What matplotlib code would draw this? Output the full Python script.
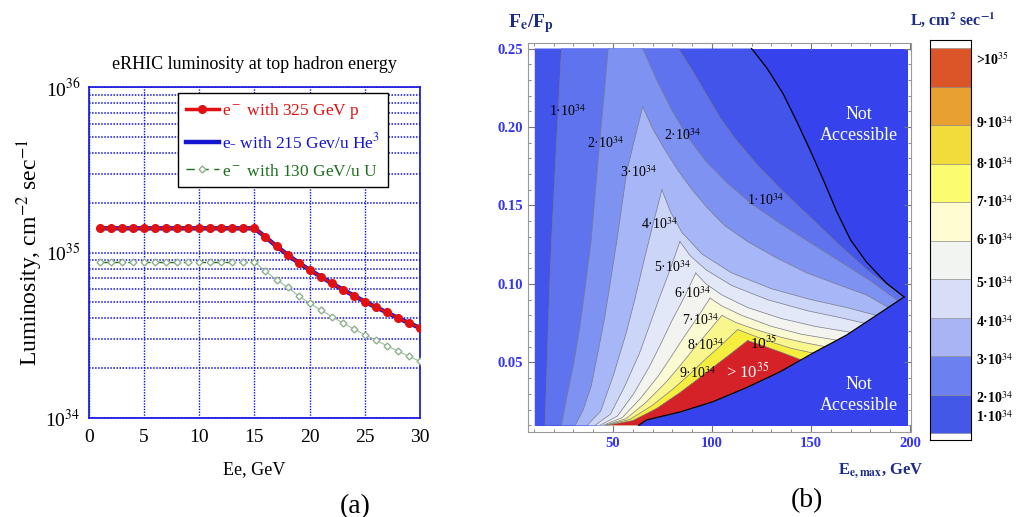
import numpy as np
import matplotlib.pyplot as plt
from matplotlib.patches import Polygon, Rectangle
from matplotlib.lines import Line2D

plt.rcParams['font.family'] = ['Liberation Serif', 'DejaVu Serif']
plt.rcParams['mathtext.fontset'] = 'stix'

# ---------------- panel (a): luminosity vs electron energy
ee = list(range(1, 31))
lum_p = [1.4e35] * 15 + [1.24e35, 1.09e35, 9.7e34, 8.66e34, 7.85e34, 7.16e34, 6.52e34,
                         5.97e34, 5.49e34, 5.05e34, 4.67e34, 4.35e34, 4.02e34, 3.75e34, 3.5e34]
lum_he = [1.4e35] * 15 + [1.24e35, 1.09e35, 9.7e34, 8.66e34, 7.85e34, 7.16e34, 6.52e34,
                          5.97e34, 5.49e34, 5.05e34, 4.67e34, 4.35e34, 4.02e34, 3.75e34, 3.5e34]
lum_u = [8.8e34] * 15 + [7.7e34, 6.85e34, 6.16e34, 5.48e34, 4.93e34, 4.5e34, 4.1e34,
                         3.75e34, 3.45e34, 3.19e34, 2.96e34, 2.73e34, 2.54e34, 2.36e34, 2.2e34]

# ---------------- panel (b): contour boundaries (Ee,max [GeV], Fe/Fp)
# left edges of each level region, from the cusp (or top) down to Fe/Fp = 0.01
left_edges = [
    [(24, 0.25), (22.8, 0.22), (21.6, 0.192), (20.3, 0.16), (19, 0.128), (18.1, 0.1),
     (17.3, 0.071), (16.5, 0.04), (15.7, 0.01)],
    [(47.6, 0.25), (45.5, 0.22), (43.4, 0.192), (41.2, 0.16), (39, 0.128), (36, 0.098),
     (33, 0.07), (30, 0.048), (27, 0.03), (24, 0.01)],
    [(65, 0.213), (60.5, 0.19), (57, 0.172), (54.5, 0.15), (52, 0.128), (49, 0.104),
     (46, 0.08), (42.5, 0.057), (39, 0.035), (35, 0.02), (31, 0.01)],
    [(74.7, 0.16), (70, 0.137), (65.4, 0.1135), (61, 0.09), (56.6, 0.0685), (50.5, 0.043),
     (43.8, 0.019), (37, 0.01)],
    [(83.8, 0.127), (78.5, 0.108), (73.3, 0.0907), (68.3, 0.073), (63.3, 0.0556),
     (56, 0.035), (48.7, 0.017), (41, 0.01)],
    [(91.8, 0.107), (85.8, 0.091), (79.9, 0.077), (74.2, 0.062), (68.6, 0.0478),
     (60.4, 0.03), (52.2, 0.0158), (43.5, 0.01)],
    [(99, 0.091), (92.3, 0.078), (85.7, 0.066), (79.3, 0.0535), (73, 0.0416),
     (63.8, 0.027), (54.7, 0.0149), (45, 0.01)],
    [(105, 0.08), (97.7, 0.069), (90.5, 0.0583), (83.6, 0.0475), (76.7, 0.0373),
     (66.6, 0.0245), (56.6, 0.0142), (46, 0.01)],
    [(113, 0.071), (104.8, 0.0612), (96.6, 0.052), (88.8, 0.0426), (81, 0.0338),
     (69.7, 0.0225), (58.5, 0.0137), (46.5, 0.01)],
    [(118, 0.064), (109.2, 0.0553), (100.5, 0.047), (92.2, 0.0388), (84, 0.031),
     (72, 0.0207), (60, 0.013), (47, 0.01)],
]
# right edges, from the cusp (or top) down to the accessibility limit
right_edges = [
    [(83, 0.25), (90, 0.236), (97, 0.221), (104, 0.206), (112, 0.192), (122, 0.177),
     (135, 0.16), (150, 0.142), (165, 0.124), (180, 0.107), (190, 0.098), (197, 0.0917)],
    [(65, 0.25), (72, 0.23), (80, 0.21), (88, 0.193), (97, 0.178), (108, 0.164), (120, 0.151),
     (135, 0.138), (150, 0.126), (165, 0.114), (180, 0.102), (194, 0.0892)],
    [(65, 0.213), (70, 0.199), (76, 0.186), (83, 0.172), (90, 0.16), (98, 0.148),
     (106.6, 0.137), (118, 0.127), (132, 0.117), (148, 0.107), (165, 0.099), (178, 0.093),
     (189, 0.0851)],
    [(74.7, 0.16), (79, 0.146), (84.7, 0.133), (95, 0.119), (110, 0.107), (130, 0.097),
     (150, 0.09), (168, 0.085), (183, 0.08)],
    [(83.8, 0.127), (89, 0.118), (97, 0.109), (110, 0.099), (128, 0.09), (148, 0.083),
     (165, 0.0785), (177, 0.075)],
    [(91.8, 0.107), (97, 0.1), (105, 0.093), (118, 0.085), (135, 0.078), (152, 0.073),
     (170, 0.0692)],
    [(99, 0.091), (105, 0.086), (115, 0.08), (130, 0.073), (145, 0.068), (163, 0.0642)],
    [(105, 0.08), (112, 0.0755), (122, 0.071), (135, 0.066), (146, 0.0628), (157, 0.0601)],
    [(113, 0.071), (120, 0.0675), (130, 0.063), (140, 0.059), (151, 0.056)],
    [(118, 0.064), (125, 0.061), (135, 0.0565), (145, 0.0517)],
]
upper_limit = [(120, 0.25), (128, 0.237), (136, 0.221), (143, 0.203), (150, 0.184),
               (157, 0.164), (163, 0.146), (170, 0.128), (178, 0.114), (188, 0.1006),
               (197, 0.0917)]
lower_limit = [(197, 0.0917), (168, 0.0675), (151, 0.056), (134.3, 0.044), (117.5, 0.034),
               (100.5, 0.025), (84, 0.0185), (67, 0.0134), (63, 0.01)]

band_colors = ['#4254e9', '#5f73ee', '#7e92f2', '#a6b6f6', '#cbd5f8', '#e3e8f8',
               '#f3f4ef', '#fbfad2', '#faf68e', '#f6ee3e', '#d42228']
blocked_color = '#3643ec'

contour_labels = [
    (27, 0.21, '1'), (46, 0.19, '2'), (63, 0.171, '3'), (73.7, 0.138, '4'), (80, 0.111, '5'),
    (90.3, 0.094, '6'), (94, 0.077, '7'), (96.5, 0.061, '8'), (92.5, 0.043, '9'),
    (85, 0.195, '2'), (127, 0.1535, '1'),
]

cbar_colors = ['#4458e8', '#6c80f0', '#a8b4f4', '#d8ddf8', '#f2f4f2',
               '#fefcd0', '#fcfc70', '#f2dc3c', '#e8a030', '#dc5528']
cbar_labels = ['1·10$^{34}$', '2·10$^{34}$', '3·10$^{34}$', '4·10$^{34}$', '5·10$^{34}$',
               '6·10$^{34}$', '7·10$^{34}$', '8·10$^{34}$', '9·10$^{34}$', '>10$^{35}$']
cbar_label_pos = [0.42, 0.9, 1.9, 2.88, 3.9, 5.0, 6.0, 6.99, 8.05, 9.69]

fig = plt.figure(figsize=(10.18, 5.17), dpi=100)

# ================= (a)
ax1 = fig.add_axes([0.0874, 0.1915, 0.3251, 0.6402])
grid_blue = '#1010dd'
ax1.plot(ee, lum_he, color='#1515d0', lw=3.2, zorder=3)
ax1.plot(ee, lum_p, color='#e01010', lw=1.6, marker='o', ms=5.5, zorder=4)
ax1.plot(ee[:15], lum_u[:15], color='#1f6e1f', lw=1, ls=(0, (6, 4)), marker='D', ms=3.5,
         mfc='white', mec='#90b090', zorder=3)
ax1.plot(ee[14:], lum_u[14:], color='#9cc09c', lw=0.8, marker='D', ms=3.5,
         mfc='white', mec='#90b090', zorder=3)

ax1.set_yscale('log')
ax1.set_xlim(0, 30)
ax1.set_ylim(1e34, 1e36)
ax1.set_xticks(range(0, 31, 5))
ax1.set_yticks([1e34, 1e35, 1e36])
ax1.set_yticklabels(['10$^{34}$', '10$^{35}$', '10$^{36}$'])
ax1.tick_params(which='both', length=0, labelsize=14, pad=8)
ax1.tick_params(axis='y', pad=6)
ax1.grid(axis='x', which='major', color=grid_blue, ls=(0, (1, 1)), lw=1)
ax1.grid(axis='y', which='both', color=grid_blue, ls=(0, (1, 1)), lw=1.1)
for s in ax1.spines.values():
    s.set_color(grid_blue)
    s.set_linestyle((0, (1, 1)))
    s.set_linewidth(1.2)
ax1.set_title('eRHIC luminosity at top hadron energy', fontsize=13, pad=13)
ax1.set_xlabel('Ee, GeV', fontsize=13, labelpad=11)
ax1.set_ylabel('Luminosity, cm$^{-2}$ sec$^{-1}$', fontsize=17, labelpad=0)

h = [Line2D([], [], color='#e01010', lw=2.5, marker='o', ms=5.5),
     Line2D([], [], color='#1515d0', lw=3.2),
     Line2D([], [], color='#1f6e1f', lw=1, ls=(0, (6, 4)), marker='D', ms=3.5,
            mfc='white', mec='#90b090')]
leg = ax1.legend(h, ['e$^-$ with 325 GeV p', 'e- with 215 Gev/u He$^3$', 'e$^-$ with 130 GeV/u U'],
                 loc='upper left', bbox_to_anchor=(0.269, 0.982), borderaxespad=0, fontsize=12.5,
                 fancybox=False, framealpha=1, edgecolor='black', handlelength=1.9,
                 handletextpad=0.2, borderpad=0.45, labelspacing=0.65)
leg.get_frame().set_linewidth(1.0)
for t, c in zip(leg.get_texts(), ['#e01010', '#1515d0', '#1f6e1f']):
    t.set_color(c)

fig.text(0.349, 0.021, '(a)', fontsize=20, ha='center', va='center')

# ================= (b)
ax2 = fig.add_axes([0.5187, 0.1644, 0.3762, 0.7524])
x0, x1, y0, y1 = 10.5, 199.0, 0.0095, 0.25
ax2.add_patch(Rectangle((x0, y0), x1 - x0, y1 - y0, color=blocked_color, lw=0, zorder=1))

accessible = [(x0, y0), (x0, y1)] + upper_limit + lower_limit[1:]
ax2.add_patch(Polygon(accessible, closed=True, color=band_colors[0], lw=0, zorder=2))

for k, (le, ri) in enumerate(zip(left_edges, right_edges)):
    end_x = ri[-1][0]
    tail = [p for p in lower_limit if p[0] < end_x - 0.5]
    pts = le[::-1] + ri + tail
    ax2.add_patch(Polygon(pts, closed=True, color=band_colors[k + 1], lw=0, zorder=3 + k))
    for edge in (le, ri):
        xs, ys = zip(*edge)
        ax2.plot(xs, ys, color='#7a7a8a', lw=0.5, zorder=20)

for edge in (upper_limit, lower_limit):
    xs, ys = zip(*edge)
    ax2.plot(xs, ys, color='black', lw=0.9, zorder=21)

for x, y, n in contour_labels:
    ax2.text(x, y, n + '·10$^{34}$', fontsize=10, ha='center', va='center', zorder=25)
ax2.text(126, 0.062, '10$^{35}$', fontsize=11, ha='center', va='center', zorder=25)
ax2.text(118, 0.044, '> 10$^{35}$', fontsize=12, color='white', ha='center', va='center', zorder=25)
ax2.text(174, 0.201, 'Not\nAccessible', fontsize=13, color='white', ha='center', va='center',
         linespacing=1.3, zorder=25)
ax2.text(174, 0.029, 'Not\nAccessible', fontsize=13, color='white', ha='center', va='center',
         linespacing=1.3, zorder=25)

ax2.set_xlim(7.1, 200.5)
ax2.set_ylim(0.0057, 0.2535)
ax2.set_xticks([50, 100, 150, 200])
ax2.set_xticks(np.arange(10, 201, 10), minor=True)
ax2.set_yticks([0.05, 0.10, 0.15, 0.20, 0.25])
ax2.set_yticklabels(['0.05', '0.10', '0.15', '0.20', '0.25'])
ax2.set_yticks(np.arange(0.01, 0.251, 0.01), minor=True)
ax2.tick_params(which='both', direction='in', top=True, right=True, color='#777777',
                labelcolor='#3535f0', labelsize=10.5)
ax2.tick_params(which='major', length=5, width=0.8)
ax2.tick_params(which='minor', length=2.5, width=0.6)
for lab in ax2.get_xticklabels() + ax2.get_yticklabels():
    lab.set_fontweight('bold')
for s in ax2.spines.values():
    s.set_color('#999999')
    s.set_linewidth(0.8)

navy = '#1c2c88'
fig.text(0.499, 0.948, 'F$_\\mathbf{e}$/F$_\\mathbf{p}$', fontsize=14, fontweight='bold', color=navy)
fig.text(0.823, 0.082, 'E$_{\\mathbf{e,max}}$, GeV', fontsize=12, fontweight='bold', color=navy)
fig.text(0.793, 0.031, '(b)', fontsize=20, ha='center', va='center')

# ================= colour legend
ax3 = fig.add_axes([0.9136, 0.1489, 0.0403, 0.7737])
for i, c in enumerate(cbar_colors):
    ax3.add_patch(Rectangle((0, i), 1, 1, facecolor=c, edgecolor='#888888', lw=0.4))
ax3.set_xlim(0, 1)
ax3.set_ylim(-0.18, 10.21)
ax3.set_xticks([])
ax3.set_yticks([])
for s in ax3.spines.values():
    s.set_linewidth(0.8)
for pos, lab in zip(cbar_label_pos, cbar_labels):
    ax3.text(1.12, pos, lab, fontsize=10, ha='left', va='center', fontweight='bold')
fig.text(0.894, 0.952, 'L, cm$^\\mathbf{2}$ sec$^\\mathbf{-1}$', fontsize=11.5, fontweight='bold', color=navy)

fig.savefig('out.png', dpi=100)
